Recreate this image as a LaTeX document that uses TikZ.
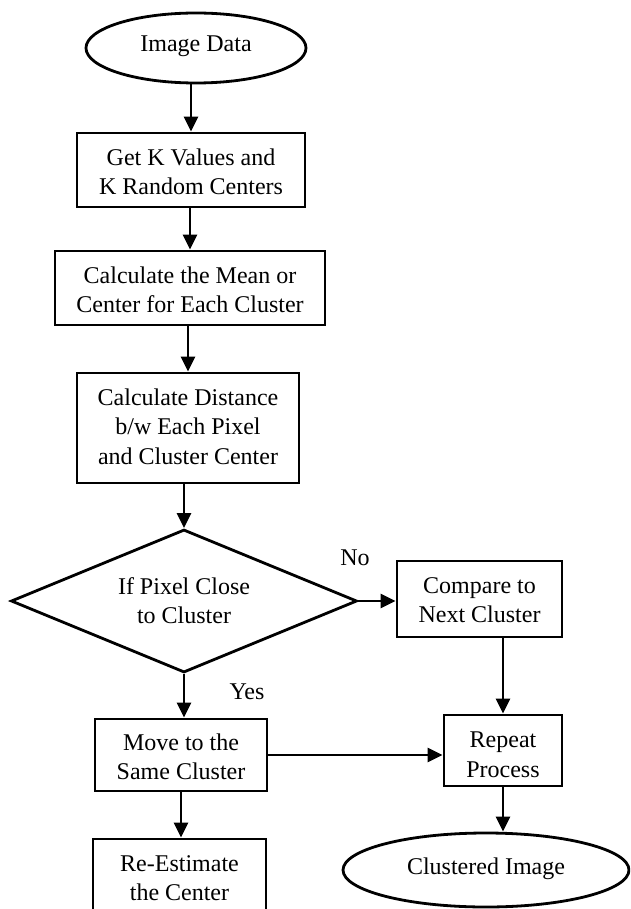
\documentclass[tikz,border=0pt]{standalone}
\usepackage{fontspec}
\setmainfont{Liberation Serif}
\usetikzlibrary{arrows.meta,shapes.geometric}
\newcommand{\flowsz}{\fontsize{24}{29.5}\selectfont}
\newcommand{\shiftlines}[2]{\raisebox{#1}[\height][\depth]{\begin{tabular}{@{}c@{}}#2\end{tabular}}}
\begin{document}
\begin{tikzpicture}[x=1pt,y=-1pt,
  line width=2.8pt,
  >={Triangle[length=15pt,width=14pt]},
  stepbox/.style={draw, rectangle, inner sep=0pt, align=center, font=\flowsz},
  termnode/.style={draw, ellipse, inner sep=0pt, align=center, font=\flowsz},
  decnode/.style={draw, diamond, aspect=2.42, inner sep=0pt, align=center, font=\flowsz},
  lbl/.style={inner sep=0pt, font=\flowsz}]
\clip (0,0) rectangle (630,909);
\node[termnode, minimum width=220pt, minimum height=70pt] (img) at (196,48) {\shiftlines{2pt}{Image Data}};
\node[stepbox, minimum width=228pt, minimum height=74pt] (b1) at (191,170) {\shiftlines{-4pt}{Get K Values and\\K Random Centers}};
\node[stepbox, minimum width=270pt, minimum height=74pt] (b2) at (190,288) {\shiftlines{-4pt}{Calculate the Mean or\\Center for Each Cluster}};
\node[stepbox, minimum width=222pt, minimum height=110pt] (b3) at (188,428) {\shiftlines{-1pt}{Calculate Distance\\b/w Each Pixel\\and Cluster Center}};
\node[decnode, minimum width=346pt, minimum height=143pt] (d) at (184,601) {\shiftlines{-2pt}{If Pixel Close\\to Cluster}};
\node[stepbox, minimum width=165pt, minimum height=76pt] (cmp) at (479.5,599) {\shiftlines{-3pt}{Compare to\\Next Cluster}};
\node[stepbox, minimum width=172pt, minimum height=72pt] (mv) at (181,755) {\shiftlines{-4pt}{Move to the\\Same Cluster}};
\node[stepbox, minimum width=118pt, minimum height=71pt] (rp) at (503,750.5) {\shiftlines{-6pt}{Repeat\\Process}};
\node[stepbox, minimum width=173pt, minimum height=74pt] (re) at (179.5,876) {\shiftlines{-4pt}{Re-Estimate\\the Center}};
\node[termnode, minimum width=286pt, minimum height=74pt] (cl) at (486,870) {\shiftlines{1pt}{Clustered Image}};
\node[lbl] (no) at (355,558) {No};
\node[lbl] (yes) at (247,692) {Yes};
\draw[->] (img.south -| b1.north) -- (b1.north);
\draw[->] (b1.south -| b2.north) -- (b2.north);
\draw[->] (b2.south -| b3.north) -- (b3.north);
\draw[->] (b3.south -| d.north) -- (d.north);
\draw[->] (d.east) -- (d.east -| cmp.west);
\draw[->] (d.south) -- (d.south |- mv.north);
\draw[->] (cmp.south -| rp.north) -- (rp.north);
\draw[->] (mv.east) -- (mv.east -| rp.west);
\draw[->] (mv.south) -- (mv.south |- re.north);
\draw[->] (rp.south) -- (rp.south |- cl.north);
\end{tikzpicture}
\end{document}
